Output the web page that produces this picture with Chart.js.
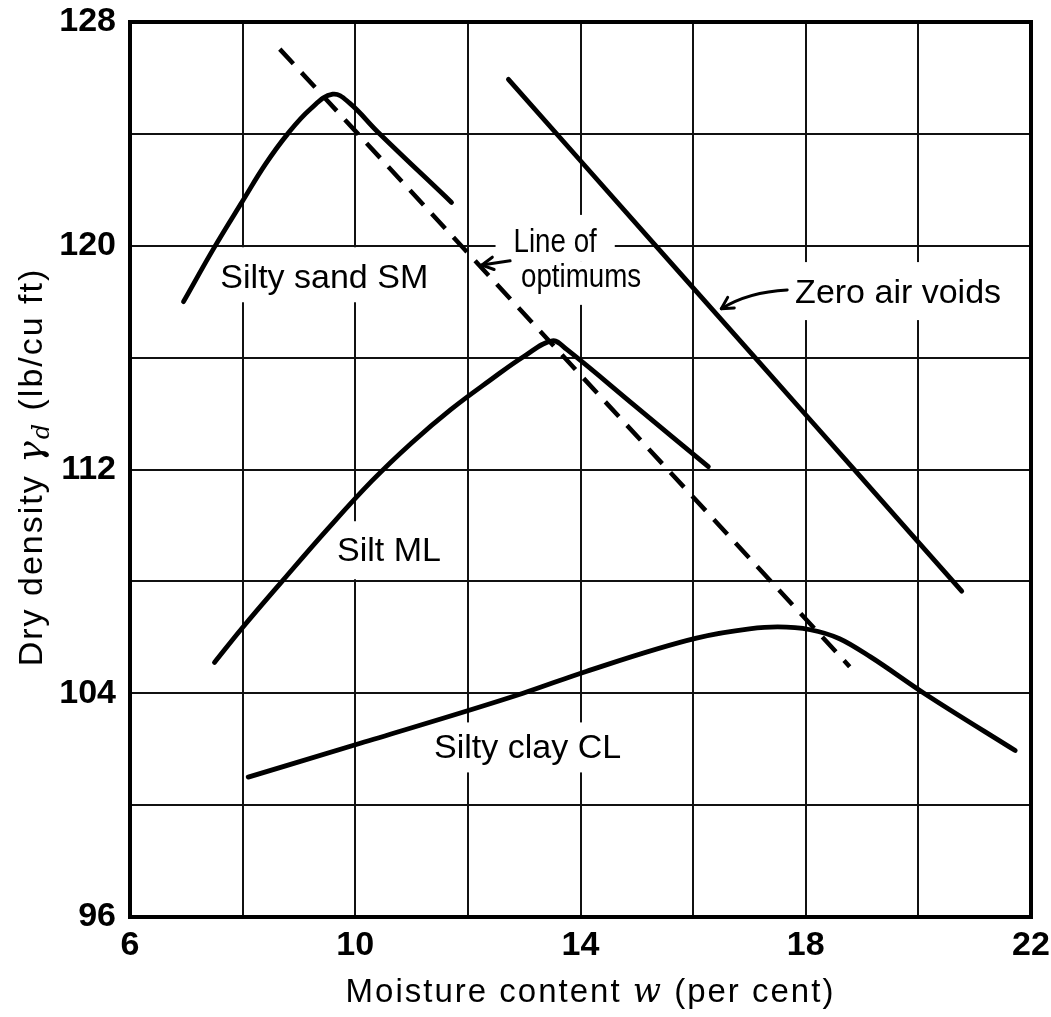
<!DOCTYPE html>
<html>
<head>
<meta charset="utf-8">
<title>Compaction curves</title>
<script src="https://cdn.jsdelivr.net/npm/chart.js@4.4.1/dist/chart.umd.min.js"></script>
<style>
  html, body { margin: 0; padding: 0; background: #fff; }
  #wrap { width: 1051px; height: 1017px; position: relative; }
  canvas { display: block; }
</style>
</head>
<body>
<div id="wrap"><canvas id="chart" width="1051" height="1017"></canvas></div>
<script>
// Moisture content w (per cent) and dry density (lb/cu ft) for each soil

// Silty sand SM
const smMoisture = [6.95, 7.5, 8.0, 8.4, 8.8, 9.2, 9.6, 9.9, 10.4, 11.71];
const smDensity  = [118.0, 119.95, 121.6, 122.9, 124.0, 124.88, 125.42, 125.1, 124.07, 121.55];

// Silt ML
const mlMoisture = [7.5, 8.0, 8.7, 9.5, 10.3, 11.0, 11.7, 12.4, 13.0, 13.5, 13.75, 15.0, 16.27];
const mlDensity  = [105.1, 106.35, 108.0, 109.85, 111.6, 112.95, 114.15, 115.2, 116.05, 116.6, 116.3, 114.22, 112.1];

// Silty clay CL
const clMoisture = [8.1, 10.09, 12.98, 14.1, 16.06, 17.0, 17.5, 18.08, 18.6, 19.15, 20.1, 21.72];
const clDensity  = [101.0, 102.21, 104.0, 104.78, 105.97, 106.3, 106.37, 106.27, 105.95, 105.3, 104.0, 101.95];

// Zero air voids
const zavMoisture = [12.72, 15.35, 17.1, 18.85, 20.77];
const zavDensity  = [125.95, 119.97, 116.0, 112.02, 107.65];

// Line of optimums
const optMoisture = [8.66, 18.78];
const optDensity  = [127.03, 104.95];

// Axis ranges and tick labels
const xMin = 6, xMax = 22, xStep = 2;
const yMin = 96, yMax = 128, yStep = 4;
const xTickLabels = [6, 10, 14, 18, 22];
const yTickLabels = [96, 104, 112, 120, 128];

const FONT = '"Liberation Sans", Arial, Helvetica, sans-serif';

function toPoints(xs, ys) {
  return xs.map((v, i) => ({ x: v, y: ys[i] }));
}

function curve(label, xs, ys, extra) {
  return Object.assign({
    label,
    data: toPoints(xs, ys),
    showLine: true,
    borderColor: '#000',
    backgroundColor: '#000',
    borderWidth: 4.8,
    pointRadius: 0,
    pointHoverRadius: 0,
    tension: 0.4,
    borderCapStyle: 'round',
    borderJoinStyle: 'round',
    fill: false
  }, extra || {});
}

// Curve labels (text anchored at baseline centre, in data units) with white backing
const notes = [
  { text: 'Silty sand SM', x: 9.45, y: 118.48, size: 34, hscale: 1,
    boxTop: 41, boxBottom: 14, padX: 6 },
  { text: 'Line of', x: 13.55, y: 119.78, size: 33, hscale: 0.84,
    boxTop: 37, boxBottom: 10, padX: 18 },
  { text: 'optimums', x: 14.01, y: 118.53, size: 33, hscale: 0.84,
    boxTop: 25, boxBottom: 18, padX: 5 },
  { text: 'Zero air voids', x: 19.64, y: 117.95, size: 34, hscale: 1,
    boxTop: 41, boxBottom: 17, padX: 6 },
  { text: 'Silt ML', x: 10.6, y: 108.72, size: 34, hscale: 1,
    boxTop: 40, boxBottom: 18, padX: 6 },
  { text: 'Silty clay CL', x: 13.06, y: 101.67, size: 34, hscale: 1,
    boxTop: 36, boxBottom: 14, padX: 6 }
];

// Leader arrows (data units): tail -> tip, optional control point
const arrows = [
  { tail: [12.75, 119.46], tip: [12.25, 119.31] },
  { tail: [17.67, 118.42], ctrl: [16.98, 118.35], tip: [16.5, 117.75] }
];

function drawArrowHead(ctx, tx, ty, angle, len, spread) {
  ctx.beginPath();
  ctx.moveTo(tx + len * Math.cos(angle + spread), ty + len * Math.sin(angle + spread));
  ctx.lineTo(tx, ty);
  ctx.lineTo(tx + len * Math.cos(angle - spread), ty + len * Math.sin(angle - spread));
  ctx.stroke();
}

const annotatePlugin = {
  id: 'annotate',
  beforeDatasetsDraw(chart) {
    const { ctx, scales: { x, y } } = chart;
    ctx.save();
    notes.forEach(n => {
      const cx = x.getPixelForValue(n.x);
      const by = y.getPixelForValue(n.y);
      ctx.font = `${n.size}px ${FONT}`;
      const w = ctx.measureText(n.text).width * n.hscale;
      ctx.fillStyle = '#fff';
      ctx.fillRect(cx - w / 2 - n.padX, by - n.boxTop, w + 2 * n.padX, n.boxTop + n.boxBottom);
      ctx.fillStyle = '#000';
      ctx.textAlign = 'center';
      ctx.textBaseline = 'alphabetic';
      ctx.save();
      ctx.translate(cx, by);
      ctx.scale(n.hscale, 1);
      ctx.fillText(n.text, 0, 0);
      ctx.restore();
    });
    ctx.restore();
  },
  afterDatasetsDraw(chart) {
    const { ctx, chartArea: a, scales: { x, y } } = chart;
    ctx.save();
    // plot frame
    ctx.strokeStyle = '#000';
    ctx.lineWidth = 4;
    ctx.strokeRect(a.left, a.top, a.right - a.left, a.bottom - a.top);

    // leader arrows
    ctx.lineWidth = 3;
    ctx.lineCap = 'round';
    ctx.lineJoin = 'round';
    arrows.forEach(ar => {
      const t0 = [x.getPixelForValue(ar.tail[0]), y.getPixelForValue(ar.tail[1])];
      const t1 = [x.getPixelForValue(ar.tip[0]), y.getPixelForValue(ar.tip[1])];
      ctx.beginPath();
      ctx.moveTo(t0[0], t0[1]);
      let from = t0;
      if (ar.ctrl) {
        const c = [x.getPixelForValue(ar.ctrl[0]), y.getPixelForValue(ar.ctrl[1])];
        ctx.quadraticCurveTo(c[0], c[1], t1[0], t1[1]);
        from = c;
      } else {
        ctx.lineTo(t1[0], t1[1]);
      }
      ctx.stroke();
      const back = Math.atan2(from[1] - t1[1], from[0] - t1[0]);
      drawArrowHead(ctx, t1[0], t1[1], back, 13, 0.5);
    });
    ctx.restore();
  },
  afterDraw(chart) {
    const { ctx, chartArea: a } = chart;
    ctx.save();
    ctx.fillStyle = '#000';
    ctx.textBaseline = 'alphabetic';

    // x-axis title: Moisture content w (per cent)
    const xParts = [
      { t: 'Moisture content ', f: `33px ${FONT}` },
      { t: 'w', f: `italic 33px "DejaVu Serif", "Liberation Serif", serif` },
      { t: ' (per cent)', f: `33px ${FONT}` }
    ];
    ctx.letterSpacing = '2px';
    let total = 0;
    xParts.forEach(p => { ctx.font = p.f; p.w = ctx.measureText(p.t).width; total += p.w; });
    let px = (a.left + a.right) / 2 + 10 - total / 2;
    ctx.textAlign = 'left';
    xParts.forEach(p => { ctx.font = p.f; ctx.fillText(p.t, px, 1002); px += p.w; });

    // y-axis title: Dry density γd (lb/cu ft), rotated
    const yParts = [
      { t: 'Dry density ', f: `34px ${FONT}`, dy: 0 },
      { t: 'γ', f: `italic 36px "DejaVu Serif", "Liberation Serif", serif`, dy: 0 },
      { t: 'd', f: `italic 24px "DejaVu Serif", "Liberation Serif", serif`, dy: 7 },
      { t: ' (lb/cu ft)', f: `34px ${FONT}`, dy: 0 }
    ];
    ctx.letterSpacing = '2px';
    total = 0;
    yParts.forEach(p => { ctx.font = p.f; p.w = ctx.measureText(p.t).width; total += p.w; });
    ctx.translate(42, 467);
    ctx.rotate(-Math.PI / 2);
    px = -total / 2;
    yParts.forEach(p => { ctx.font = p.f; ctx.fillText(p.t, px, p.dy); px += p.w; });
    ctx.letterSpacing = '0px';
    ctx.restore();
  }
};

function gridWidth(scaleMin, scaleMax) {
  return c => (c.tick && (c.tick.value === scaleMin || c.tick.value === scaleMax)) ? 0 : 2;
}

// keep the plot box fixed: axis band sizes set here, label overflow handled by layout padding
function fixX(s) { s.height = 100; s.paddingLeft = 0; s.paddingRight = 0; }
function fixY(s) { s.width = 130; s.paddingTop = 0; s.paddingBottom = 0; }

new Chart(document.getElementById('chart'), {
  type: 'scatter',
  data: {
    datasets: [
      curve('Silty sand SM', smMoisture, smDensity),
      curve('Silt ML', mlMoisture, mlDensity),
      curve('Silty clay CL', clMoisture, clDensity, { tension: 0, cubicInterpolationMode: 'monotone' }),
      curve('Zero air voids', zavMoisture, zavDensity, { tension: 0.2 }),
      curve('Line of optimums', optMoisture, optDensity, {
        tension: 0, borderDash: [20, 12], borderCapStyle: 'butt', borderWidth: 4.5
      })
    ]
  },
  options: {
    responsive: false,
    devicePixelRatio: 1,
    animation: false,
    events: [],
    layout: { padding: { top: 22, right: 20, left: 0, bottom: 0 } },
    plugins: {
      legend: { display: false },
      tooltip: { enabled: false },
      title: { display: false }
    },
    scales: {
      x: {
        type: 'linear',
        min: xMin, max: xMax,
        afterFit: fixX,
        ticks: {
          stepSize: xStep,
          autoSkip: false,
          maxRotation: 0,
          padding: 8,
          color: '#000',
          font: { family: FONT, size: 34, weight: 'bold' },
          callback: v => xTickLabels.includes(v) ? String(v) : ''
        },
        grid: { color: '#111', lineWidth: gridWidth(xMin, xMax), drawTicks: false },
        border: { display: false }
      },
      y: {
        type: 'linear',
        min: yMin, max: yMax,
        afterFit: fixY,
        ticks: {
          stepSize: yStep,
          autoSkip: false,
          padding: 14,
          color: '#000',
          font: { family: FONT, size: 34, weight: 'bold' },
          callback: v => yTickLabels.includes(v) ? String(v) : ''
        },
        grid: { color: '#111', lineWidth: gridWidth(yMin, yMax), drawTicks: false },
        border: { display: false }
      }
    }
  },
  plugins: [annotatePlugin]
});
</script>
</body>
</html>
